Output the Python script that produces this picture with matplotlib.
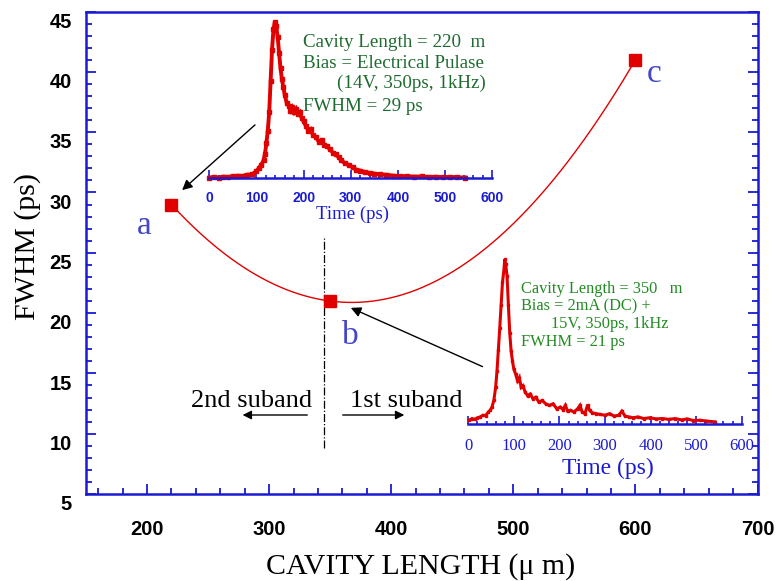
import numpy as np
import matplotlib
matplotlib.use('Agg')
import matplotlib.pyplot as plt
import matplotlib.transforms as mtransforms
from matplotlib.ticker import MultipleLocator

# FWHM vs cavity length (three devices a, b, c)
cavity_len = [220, 350, 600]
fwhm = [29, 21, 41]
point_names = ['a', 'b', 'c']

# measured pulse of device a (time in ps, normalised amplitude)
t_pulse_a = [0, 10, 20, 30, 40, 50, 60, 70, 80, 90, 100, 105, 110, 115, 118, 121, 124, 127, 130, 133,
             136, 139, 142, 145, 148, 151, 154, 157, 160, 164, 168, 172, 176, 180, 184, 188, 192, 196, 200, 205,
             210, 215, 220, 226, 232, 238, 244, 250, 256, 262, 268, 274, 280, 288, 296, 304, 312, 320, 330, 340,
             350, 362, 375, 390, 405, 420, 435, 450, 465, 480, 495, 510, 525, 543]
amp_pulse_a = [0.0, 0.003, 0.0, 0.006, 0.004, 0.008, 0.012, 0.01, 0.018, 0.02, 0.04, 0.06, 0.08, 0.11, 0.15, 0.22, 0.3, 0.42, 0.62, 0.82,
               0.95, 1.0, 0.97, 0.9, 0.8, 0.7, 0.63, 0.58, 0.53, 0.48, 0.46, 0.43, 0.45, 0.42, 0.44, 0.41, 0.42, 0.38, 0.36, 0.33,
               0.3, 0.31, 0.27, 0.26, 0.23, 0.24, 0.21, 0.2, 0.18, 0.16, 0.15, 0.13, 0.11, 0.09, 0.08, 0.065, 0.05, 0.045, 0.035, 0.03,
               0.025, 0.02, 0.018, 0.012, 0.01, 0.008, 0.006, 0.007, 0.004, 0.005, 0.002, 0.004, 0.001, 0.0]

# measured pulse of device b
t_pulse_b = [2, 8, 14, 20, 26, 32, 38, 44, 48, 52, 56, 60, 63, 66, 69, 72, 75, 78, 80, 82,
             85, 88, 91, 94, 97, 100, 104, 108, 112, 116, 120, 125, 130, 136, 142, 148, 155, 162, 170, 178,
             186, 194, 202, 208, 213, 218, 224, 232, 240, 245, 250, 256, 262, 266, 272, 280, 290, 300, 310, 320,
             330, 337, 344, 352, 362, 372, 385, 398, 412, 426, 440, 454, 468, 480, 494, 508, 522, 541]
amp_pulse_b = [0.02, 0.03, 0.025, 0.035, 0.04, 0.05, 0.048, 0.07, 0.08, 0.1, 0.14, 0.22, 0.32, 0.45, 0.58, 0.72, 0.86, 0.93, 1.0, 0.97,
               0.9, 0.72, 0.55, 0.44, 0.38, 0.33, 0.3, 0.26, 0.28, 0.22, 0.23, 0.19, 0.17, 0.18, 0.15, 0.16, 0.13, 0.14, 0.12, 0.11,
               0.12, 0.09, 0.1, 0.085, 0.11, 0.075, 0.08, 0.07, 0.09, 0.11, 0.07, 0.06, 0.115, 0.08, 0.065, 0.06, 0.055, 0.05, 0.06, 0.045,
               0.05, 0.075, 0.045, 0.04, 0.035, 0.04, 0.03, 0.035, 0.028, 0.03, 0.025, 0.03, 0.022, 0.028, 0.018, 0.02, 0.015, 0.01]

info_a = ['Cavity Length = 220  m', 'Bias = Electrical Pulase', '(14V, 350ps, 1kHz)', 'FWHM = 29 ps']
info_b = ['Cavity Length = 350   m', 'Bias = 2mA (DC) +', '15V, 350ps, 1kHz', 'FWHM = 21 ps']

BLUE = '#1a1ad2'
RED = '#e00000'
LABEL_BLUE = '#4646c8'
SERIF = 'Liberation Serif'
SANS = 'Liberation Sans'

W, H = 777, 581


def fx(px):
    return px / W


def fy(py):
    return 1 - py / H


fig = plt.figure(figsize=(W / 100, H / 100), dpi=100)

# ---------------------------------------------------------
# main axes
# ---------------------------------------------------------
ax = fig.add_axes([fx(86), fy(494), (757.5 - 86) / W, (494 - 11.6) / H])
ax.set_xlim(150, 700)
ax.set_ylim(5, 45)
for side in ['left', 'right', 'bottom', 'top']:
    ax.spines[side].set_color(BLUE)
    ax.spines[side].set_linewidth(1.8)

ax.set_xticks(np.arange(200, 701, 100))
ax.set_yticks(np.arange(5, 46, 5))
ax.xaxis.set_minor_locator(MultipleLocator(20))
ax.yaxis.set_minor_locator(MultipleLocator(1))
ax.tick_params(which='both', direction='in', color=BLUE, width=1.3,
               left=True, right=True, bottom=True, top=False)
ax.tick_params(which='major', length=7.5)
ax.tick_params(which='minor', length=4)
ax.tick_params(axis='x', which='major', pad=19)
ax.tick_params(axis='y', which='major', pad=10)
for lab in ax.get_xticklabels() + ax.get_yticklabels():
    lab.set_fontfamily(SANS)
    lab.set_fontweight('bold')
    lab.set_fontsize(14.5)
# y tick labels sit a little below their ticks
shift = mtransforms.ScaledTranslation(0, -8.7 / 100, fig.dpi_scale_trans)
for lab in ax.get_yticklabels():
    lab.set_transform(lab.get_transform() + shift)

# quadratic fit through the three devices
coef = np.polyfit(cavity_len, fwhm, 2)
xs = np.linspace(min(cavity_len), max(cavity_len), 300)
ax.plot(xs, np.polyval(coef, xs), color=RED, lw=1.0, zorder=3)
ax.plot(cavity_len, fwhm, 's', color=RED, ms=8, zorder=4)

name_pos = [(197.5, 26.6), (366.8, 17.4), (615.3, 39.2)]
for name, (nx, ny) in zip(point_names, name_pos):
    ax.text(nx, ny, name, ha='center', va='baseline', fontsize=24,
            family=SERIF, color=LABEL_BLUE)

# boundary between the two subbands
ax.plot([345, 345], [8.8, 26.2], color='black', lw=0.9, ls='-.')
ax.annotate('', xy=(276, 11.55), xytext=(333.5, 11.55),
            arrowprops=dict(arrowstyle='-|>', color='black', lw=1, mutation_scale=13))
ax.annotate('', xy=(413, 11.55), xytext=(358, 11.55),
            arrowprops=dict(arrowstyle='-|>', color='black', lw=1, mutation_scale=13))
ax.text(285.7, 12.2, '2nd suband', ha='center', va='baseline', fontsize=19, family=SERIF)
ax.text(412.5, 12.2, '1st suband', ha='center', va='baseline', fontsize=19, family=SERIF)

# arrows from each inset to its point
ax.annotate('', xy=(227, 30.04), xytext=(290.1, 35.76),
            arrowprops=dict(arrowstyle='-|>', color='black', lw=1, mutation_scale=15))
ax.annotate('', xy=(364.8, 20.53), xytext=(476.8, 15.47),
            arrowprops=dict(arrowstyle='-|>', color='black', lw=1, mutation_scale=15))

fig.text(fx(28), fy(247), 'FWHM (ps)', rotation=90, ha='center', va='center',
         fontsize=21.5, family=SERIF)
fig.text(fx(421), fy(574), 'CAVITY LENGTH (\u03bc m)', ha='center', va='baseline',
         fontsize=21.5, family=SERIF)


def pulse_inset(rect, t, amp, lw, label_font, label_size, label_pad, label_weight):
    ins = fig.add_axes(rect)
    ins.patch.set_alpha(0)
    ins.set_xlim(0, 600)
    ins.set_ylim(-0.005, 1.0)
    for side in ['left', 'right', 'top']:
        ins.spines[side].set_visible(False)
    ins.spines['bottom'].set_color(BLUE)
    ins.spines['bottom'].set_linewidth(1.8)
    ins.set_yticks([])
    ins.set_xticks(np.arange(0, 601, 100))
    ins.xaxis.set_minor_locator(MultipleLocator(20))
    ins.tick_params(axis='x', which='both', direction='in', color=BLUE, width=1.2,
                    labelcolor=BLUE, labelsize=label_size, pad=label_pad)
    ins.tick_params(axis='x', which='major', length=5.5)
    ins.tick_params(axis='x', which='minor', length=2.5)
    for lab in ins.get_xticklabels():
        lab.set_fontfamily(label_font)
        lab.set_fontweight(label_weight)
    ins.plot(t, amp, color=RED, lw=lw, marker='s', ms=lw * 0.9, mec=RED, mfc=RED,
             solid_joinstyle='miter', clip_on=False)
    return ins


# inset for device a
pulse_inset([fx(209.3), fy(178.3), (492.3 - 209.3) / W, (178.3 - 21.7) / H],
            t_pulse_a, amp_pulse_a, 2.8, SANS, 10, 9, 'bold')
fig.text(fx(352), fy(214), 'Time (ps)', ha='center', va='center', fontsize=13.5,
         family=SERIF, color=BLUE)
for line, px, py in zip(info_a, [303.3, 303.3, 336.7, 303.3], [47.3, 67.7, 87.5, 110.7]):
    fig.text(fx(px), fy(py), line, ha='left', va='baseline', fontsize=13.7,
             family=SERIF, color='#1e6b30')

# inset for device b
pulse_inset([fx(468.3), fy(424.3), (741.7 - 468.3) / W, (424.3 - 259.3) / H],
            t_pulse_b, amp_pulse_b, 2.2, SERIF, 12, 9.7, 'normal')
fig.text(fx(608), fy(468), 'Time (ps)', ha='center', va='center', fontsize=17,
         family=SERIF, color=BLUE)
for line, px, py in zip(info_b, [521, 521, 551, 521], [293.3, 310.7, 328.3, 346]):
    fig.text(fx(px), fy(py), line, ha='left', va='baseline', fontsize=11.8,
             family=SERIF, color='#228b22')

fig.savefig('out.png', dpi=100, facecolor='white')
